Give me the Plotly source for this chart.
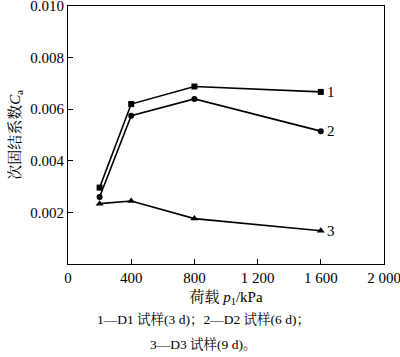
import plotly.graph_objects as go

loads = [200, 400, 800, 1600]
series_labels = ["1", "2", "3"]
ca_d1 = [0.00296, 0.0062, 0.00688, 0.00667]
ca_d2 = [0.0026, 0.00575, 0.0064, 0.00515]
ca_d3 = [0.00234, 0.00244, 0.00176, 0.00129]
symbols = ["square", "circle", "triangle-up"]
marker_sizes = [6, 6, 7]

x_tickvals = [0, 400, 800, 1200, 1600, 2000]
x_ticktext = ["0", "400", "800", "1 200", "1 600", "2 000"]
y_tickvals = [0.002, 0.004, 0.006, 0.008, 0.010]
y_ticktext = ["0.002", "0.004", "0.006", "0.008", "0.010"]

caption_lines = ["1—D1 试样(3 d)；2—D2 试样(6 d)；", "3—D3 试样(9 d)。"]

FONT = "Liberation Serif, Times New Roman, Noto Serif CJK SC, Noto Sans CJK SC, serif"

fig = go.Figure()
for vals, sym, ms, lab in zip([ca_d1, ca_d2, ca_d3], symbols, marker_sizes, series_labels):
    fig.add_trace(go.Scatter(
        x=loads, y=vals, mode="lines+markers",
        line=dict(color="black", width=1.6),
        marker=dict(symbol=sym, size=ms, color="black"),
        showlegend=False, cliponaxis=False,
    ))
    fig.add_annotation(x=loads[-1], y=vals[-1], text=lab, showarrow=False,
                       xanchor="left", xshift=4, yshift=0,
                       font=dict(size=15, color="black", family=FONT))

fig.update_xaxes(
    range=[0, 2000], tickvals=x_tickvals, ticktext=x_ticktext,
    ticks="inside", ticklen=5, tickcolor="black", tickwidth=1,
    showline=True, linecolor="black", linewidth=1, mirror=True,
    showgrid=False, zeroline=False, automargin=False, ticklabeloverflow="allow",
    tickfont=dict(size=15, color="black", family=FONT),
    title=dict(text="荷载 <i>p</i><sub>1</sub>/kPa", font=dict(size=15, color="black", family=FONT), standoff=6),
)
fig.update_yaxes(
    range=[0, 0.010], tickvals=y_tickvals, ticktext=y_ticktext,
    ticks="inside", ticklen=5, tickcolor="black", tickwidth=1,
    showline=True, linecolor="black", linewidth=1, mirror=True,
    showgrid=False, zeroline=False, automargin=False, ticklabeloverflow="allow",
    tickfont=dict(size=15, color="black", family=FONT),
    title=dict(text="次固结系数<i>C</i><sub>a</sub>", font=dict(size=15, color="black", family=FONT), standoff=6),
)

for i, line in enumerate(caption_lines):
    fig.add_annotation(x=0.43, xref="paper", y=-0.215 - i * 0.095, yref="paper",
                       text=line, showarrow=False, xanchor="center", yanchor="middle",
                       font=dict(size=13.5, color="black", family=FONT))

fig.update_layout(
    width=400, height=357,
    margin=dict(l=68, r=16, t=6, b=93),
    plot_bgcolor="white", paper_bgcolor="white",
)

fig.write_html("out.html", config={"displayModeBar": False},
               post_script="document.body.style.margin='0';document.body.style.overflow='hidden';")
